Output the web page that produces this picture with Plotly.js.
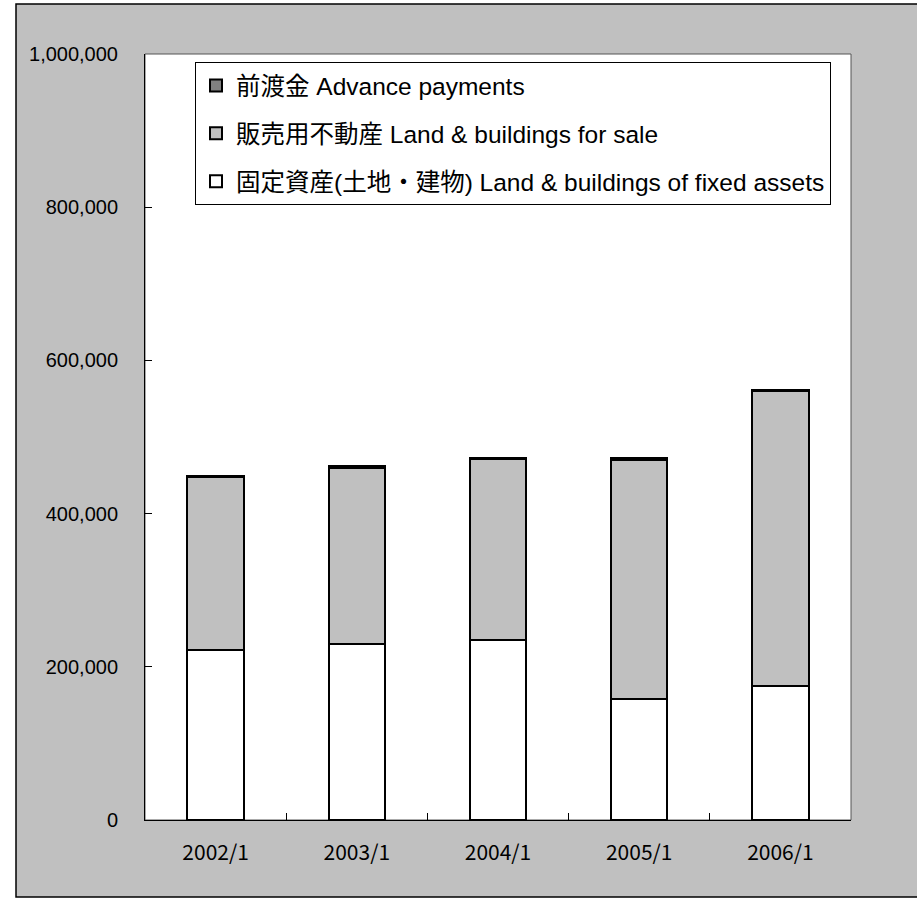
<!DOCTYPE html>
<html>
<head>
<meta charset="utf-8">
<script src="https://cdn.plot.ly/plotly-3.0.1.min.js"></script>
<style>html,body{margin:0;padding:0;background:#fff;}#chart{width:917px;height:902px;}</style>
</head>
<body>
<div id="chart"></div>
<script>
const categories = ["2002/1", "2003/1", "2004/1", "2005/1", "2006/1"];
const fixedAssets = [222000, 230000, 235000, 158000, 175000];
const forSale = [225500, 230000, 236500, 311500, 384500];
const advancePayments = [1500, 2000, 1500, 3500, 2500];
const yTicks = [0, 200000, 400000, 600000, 800000, 1000000];

const nameFixed = "固定資産(土地・建物) Land & buildings of fixed assets";
const nameSale = "販売用不動産 Land & buildings for sale";
const nameAdv = "前渡金 Advance payments";

const lineStyle = {color: "#000", width: 2};
const traces = [
  {type: "bar", x: categories, y: fixedAssets, name: nameFixed, legendgroup: "g3", legendrank: 3,
   marker: {color: "#ffffff", line: lineStyle}, width: 0.4},
  {type: "bar", x: categories, y: forSale, name: nameSale, legendgroup: "g2", legendrank: 2,
   marker: {color: "#c0c0c0", line: lineStyle}, width: 0.4},
  {type: "bar", x: categories, y: advancePayments, name: nameAdv, legendgroup: "g1", legendrank: 1,
   marker: {color: "#808080", line: lineStyle}, width: 0.4}
];

const W = 706, H = 766;
const layout = {
  width: 917, height: 902,
  margin: {l: 145, r: 66, t: 54, b: 82},
  paper_bgcolor: "#ffffff",
  plot_bgcolor: "rgba(0,0,0,0)",
  barmode: "stack",
  showlegend: true,
  font: {family: "Liberation Sans, Noto Sans CJK JP, sans-serif", color: "#000"},
  xaxis: {
    type: "category", tickson: "boundaries", ticks: "inside", ticklen: 7,
    tickcolor: "#000", showline: true, linecolor: "#000", linewidth: 1,
    showgrid: false, zeroline: false,
    tickfont: {family: "Noto Sans CJK JP, sans-serif", size: 21, color: "#000"},
    ticklabelstandoff: 14
  },
  yaxis: {
    range: [0, 1000000], tickvals: yTicks, tickformat: ",d",
    ticks: "inside", ticklen: 7, tickcolor: "#000",
    showline: true, linecolor: "#000", linewidth: 1,
    showgrid: false, zeroline: false,
    tickfont: {family: "Liberation Sans, Arial, sans-serif", size: 20, color: "#000"},
    ticklabelstandoff: 22
  },
  legend: {
    x: (195 - 145) / W, y: (820 - 62) / H, xanchor: "left", yanchor: "top",
    bgcolor: "#ffffff", bordercolor: "#000", borderwidth: 1,
    traceorder: "grouped", tracegroupgap: 13,
    font: {family: "Liberation Sans, Noto Sans CJK JP, sans-serif", size: 24.5, color: "#000"},
    itemclick: false
  },
  shapes: [
    {type: "rect", xref: "paper", yref: "paper", layer: "below",
     x0: (16 - 145) / W, x1: 1.2, y0: (820 - 897) / H, y1: (820 - 4) / H,
     fillcolor: "#c0c0c0", line: {color: "#000", width: 1.5}},
    {type: "rect", xref: "paper", yref: "paper", layer: "below",
     x0: 0, x1: 1, y0: 0, y1: 1,
     fillcolor: "#ffffff", line: {color: "#555", width: 1}}
  ]
};

Plotly.newPlot("chart", traces, layout, {displayModeBar: false, staticPlot: true});
</script>
</body>
</html>
